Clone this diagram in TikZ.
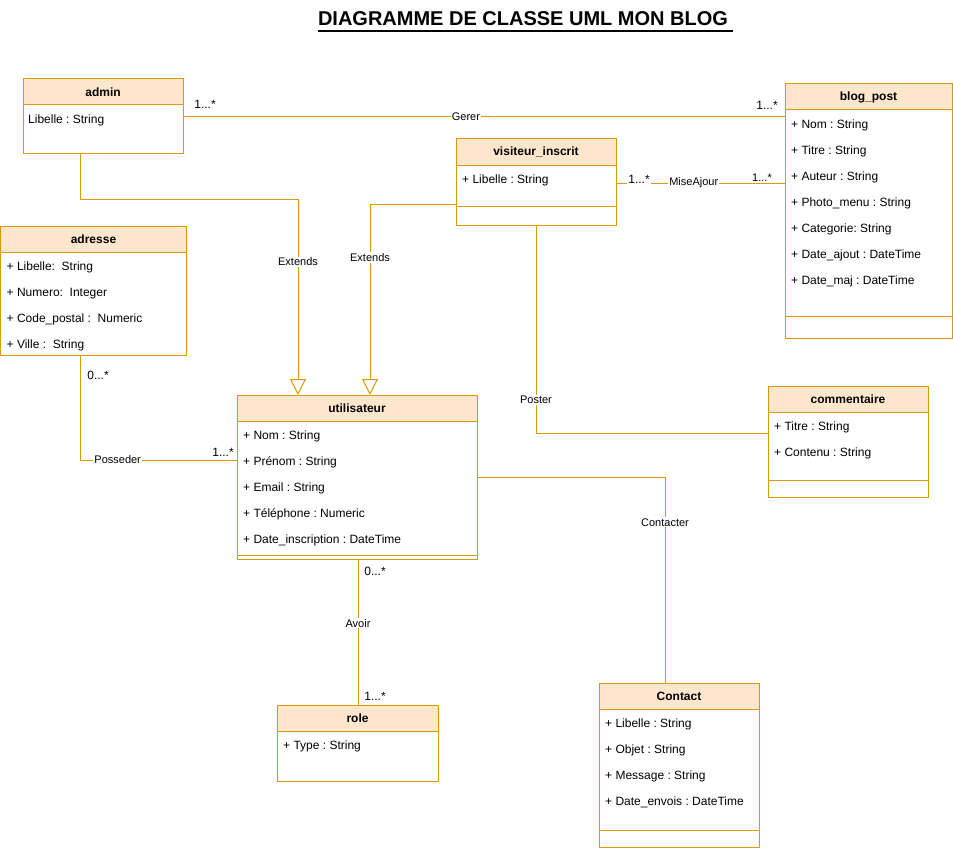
\documentclass[tikz,border=0pt]{standalone}
\usepackage{fontspec}
\setmainfont{Liberation Sans}
\usepackage{xcolor}
\usetikzlibrary{positioning,arrows.meta}

\definecolor{umlline}{HTML}{D79B00}
\definecolor{umlfill}{HTML}{FFE6CC}

\frenchspacing
\begin{document}
\begin{tikzpicture}[
  x=1pt, y=-1pt,
  classhead/.style={draw=umlline, fill=umlfill, line width=1pt, anchor=north west, inner sep=0pt, outer sep=0pt, minimum height=26pt, font=\bfseries\fontsize{12}{14}\selectfont},
  classbody/.style={draw=umlline, fill=white, line width=1pt, anchor=north west, inner sep=0pt, outer sep=0pt},
  attrs/.style={anchor=north west, align=left, inner sep=0pt, font=\fontsize{12}{26}\selectfont},
  divider/.style={draw=umlline, line width=1pt},
  assoc/.style={draw=umlline, line width=1pt},
  extends/.style={assoc, -{Triangle[open, width=16pt, length=16pt]}},
  lbl/.style={fill=white, inner sep=1pt, font=\fontsize{11}{13}\selectfont},
  mult/.style={inner sep=1pt, font=\fontsize{12}{14}\selectfont}
]
\useasboundingbox (0,0) rectangle (953,848);

% Title
\node[inner sep=0pt, font=\bfseries\fontsize{20}{24}\selectfont] (title) at (523,19) {DIAGRAMME DE CLASSE UML MON BLOG};
\draw[line width=1.5pt] ([yshift=-5pt]title.base west) -- ([xshift=5pt, yshift=-5pt]title.base east);

% admin
\node[classhead, minimum width=160pt] (admin) at (23,79) {admin};
\node[classbody, minimum width=160pt, minimum height=49pt] (admin-body) at (admin.south west) {};
\node[attrs] (admin-attr) at ([xshift=5pt]admin-body.north west) {\strut Libelle : String};

% blog_post
\node[classhead, minimum width=167pt] (blogpost) at (785,84) {blog\_post};
\node[classbody, minimum width=167pt, minimum height=228pt] (blogpost-body) at (blogpost.south west) {};
\node[attrs] (blogpost-attr) at ([xshift=6pt]blogpost-body.north west) {\strut + Nom : String\\+ Titre : String\\+ Auteur : String\\+ Photo\_menu : String\\+ Categorie: String\\+ Date\_ajout : DateTime\\+ Date\_maj : DateTime};
\draw[divider] (blogpost-body.west |- 0,316) -- (blogpost-body.east |- 0,316);

% visiteur_inscrit
\node[classhead, minimum width=160pt] (visiteur) at (456,139) {visiteur\_inscrit};
\node[classbody, minimum width=160pt, minimum height=60pt] (visiteur-body) at (visiteur.south west) {};
\node[attrs] (visiteur-attr) at ([xshift=6pt]visiteur-body.north west) {\strut + Libelle : String};
\draw[divider] (visiteur-body.west |- 0,206) -- (visiteur-body.east |- 0,206);

% adresse
\node[classhead, minimum width=186pt] (adresse) at (0.5,226) {adresse};
\node[classbody, minimum width=186pt, minimum height=103pt] (adresse-body) at (adresse.south west) {};
\node[attrs] (adresse-attr) at ([xshift=6pt]adresse-body.north west) {\strut + Libelle:\ \ String\\+ Numero:\ \ Integer\\+ Code\_postal :\ \ Numeric\\+ Ville :\ \ String};

% utilisateur
\node[classhead, minimum width=240pt] (utilisateur) at (237,395) {utilisateur};
\node[classbody, minimum width=240pt, minimum height=138pt] (utilisateur-body) at (utilisateur.south west) {};
\node[attrs] (utilisateur-attr) at ([xshift=6pt]utilisateur-body.north west) {\strut + Nom : String\\+ Prénom : String\\+ Email : String\\+ Téléphone : Numeric\\+ Date\_inscription : DateTime};
\draw[divider] (utilisateur-body.west |- 0,555) -- (utilisateur-body.east |- 0,555);

% commentaire
\node[classhead, minimum width=160pt] (commentaire) at (768,386) {commentaire};
\node[classbody, minimum width=160pt, minimum height=85pt] (commentaire-body) at (commentaire.south west) {};
\node[attrs] (commentaire-attr) at ([xshift=6pt]commentaire-body.north west) {\strut + Titre : String\\+ Contenu : String};
\draw[divider] (commentaire-body.west |- 0,480) -- (commentaire-body.east |- 0,480);

% role
\node[classhead, minimum width=161pt] (role) at (277,705) {role};
\node[classbody, minimum width=161pt, minimum height=50pt] (role-body) at (role.south west) {};
\node[attrs] (role-attr) at ([xshift=6pt]role-body.north west) {\strut + Type : String};

% Contact
\node[classhead, minimum width=160pt] (contact) at (599,683) {Contact};
\node[classbody, minimum width=160pt, minimum height=138pt] (contact-body) at (contact.south west) {};
\node[attrs] (contact-attr) at ([xshift=6pt]contact-body.north west) {\strut + Libelle : String\\+ Objet : String\\+ Message : String\\+ Date\_envois : DateTime};
\draw[divider] (contact-body.west |- 0,830) -- (contact-body.east |- 0,830);

% Associations
\draw[assoc] (admin-body.east |- 0,117) -- node[lbl, pos=0.47]{Gerer} (blogpost-body.west |- 0,117);
\node[mult] (gerer-m1) at (205,104) {1...*};
\node[mult] (gerer-m2) at (767,105) {1...*};

\draw[assoc] (visiteur-body.east |- 0,183) -- node[lbl, pos=0.46]{MiseAjour} (blogpost-body.west |- 0,183);
\node[mult, fill=white] (maj-m1) at (639,179) {1...*};
\node[mult, fill=white, font=\fontsize{11}{13}\selectfont] (maj-m2) at (762,178) {1...*};

\draw[assoc] (visiteur-body.south -| 536,0) |- node[lbl, pos=0.42]{Poster} (commentaire-body.west |- 0,433);

\draw[assoc] (adresse-body.south -| 80,0) |- node[lbl, pos=0.62]{Posseder} (utilisateur-body.west |- 0,460);
\node[mult] (pos-m1) at (98,375) {0...*};
\node[mult] (pos-m2) at (223,452) {1...*};

\draw[assoc] (utilisateur-body.east |- 0,477) -| node[lbl, pos=0.61]{Contacter} (contact.north -| 665,0);

\draw[assoc] (utilisateur-body.south -| 358,0) -- node[lbl, pos=0.44]{Avoir} (role.north -| 358,0);
\node[mult] (avoir-m1) at (375,571) {0...*};
\node[mult] (avoir-m2) at (375,696) {1...*};

% Generalisations
\draw[extends] (admin-body.south -| 80,0) -- (80,199) -| node[lbl, pos=0.66]{Extends} (utilisateur.north -| 298,0);
\draw[extends] (visiteur-body.west |- 0,204) -| node[lbl, pos=0.64]{Extends} (utilisateur.north -| 370,0);
\end{tikzpicture}
\end{document}
